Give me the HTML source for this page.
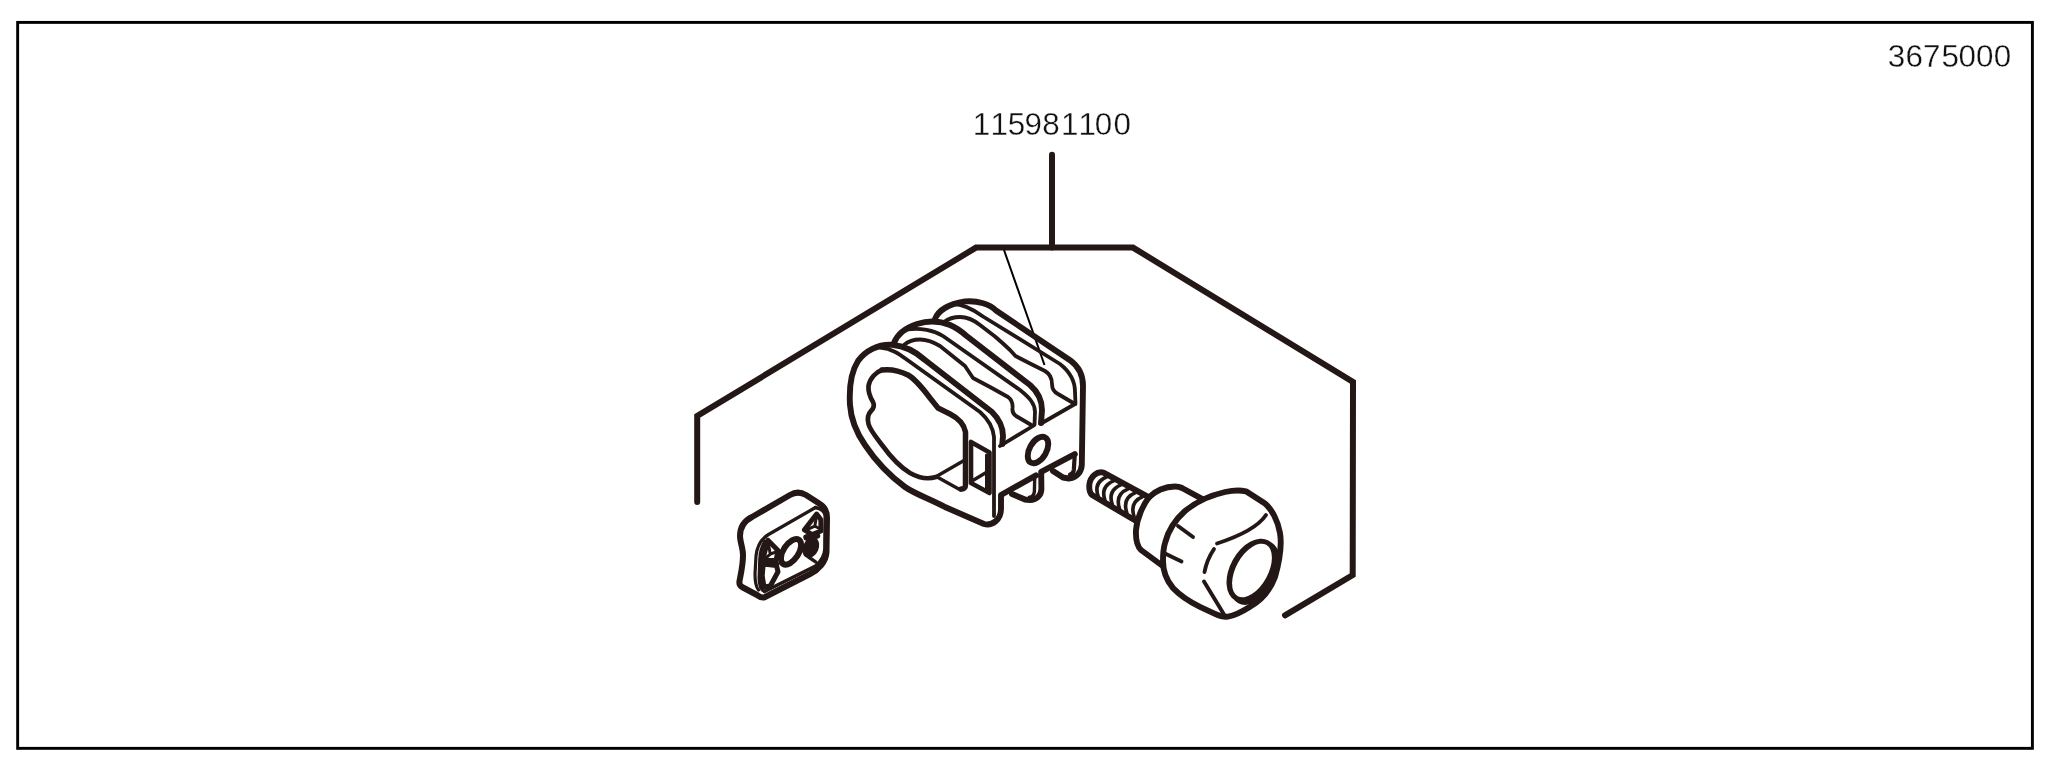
<!DOCTYPE html>
<html lang="en">
<head>
<meta charset="utf-8">
<title>3675000</title>
<style>
html,body{margin:0;padding:0;background:#fff;}
body{width:2050px;height:771px;overflow:hidden;position:relative;font-family:"Liberation Sans",sans-serif;}
svg{position:absolute;left:0;top:0;display:block;}
.lbl{font-family:"Liberation Sans",sans-serif;font-size:31.4px;fill:#111;stroke:#fff;stroke-width:0.32px;paint-order:fill stroke;}
text{filter:grayscale(1);}
</style>
</head>
<body>
<svg width="2050" height="771" viewBox="0 0 2050 771">
<rect x="0" y="0" width="2050" height="771" fill="#fff"/>
<rect x="17.65" y="22.4" width="2014.75" height="725.95" fill="none" stroke="#000" stroke-width="2.9"/>
<text class="lbl" x="1887.8 1905.5 1922.9 1941.5 1958.4 1976 1993.7" y="67">3675000</text>
<text class="lbl" x="972.8 990.6 1007.8 1024.4 1042.3 1061 1078.6 1094.8 1113.6" y="135.4">115981100</text>
<g fill="none" stroke="#231815" stroke-linecap="round" stroke-linejoin="round">
<path d="M1052,154.8 L1052,247.6" stroke-width="6.0"/>
<path d="M697.2,502 L697.2,416 L976,247.6 L1133,247.6 L1353,382 L1352.7,575 L1285,615.3" stroke-width="6.0" stroke-linejoin="miter"/>
<path d="M1004,250 L1044.5,365" stroke-width="2.0" stroke="#000" stroke-linecap="butt"/>
<path d="M935,319 C938,311 948,304 965,301.4 C978,300.3 990,304.5 996,310.5 L1070,360.2 C1078,366 1083,375 1083,386 L1081.8,465 C1081.5,472 1076,478.5 1069,478.5 L1063,477.5 L1053,471" stroke-width="5.9" />
<path d="M953,304 C962,304 974,310 983,316.5 L1060,364 C1069,371 1075,380 1075,392 L1075.5,404" stroke-width="3.8" />
<path d="M944,322 C948,319 954,317 960,317 C968,317 975,321 980,325 L995,336.5 L1003,343.5 L1010,350 L1015.5,356 L1030,363.5 L1045,371 C1050,374 1052,378 1052,384 C1052,389 1054,392 1058,394 L1075,404 L1042,423" stroke-width="3.8" />
<path d="M894,343 C897,335 905,328 917,324 C928,320.5 940,321 950,325 C957,328 962,332 966,335.5 L1030,385 C1038,392 1042,400 1042,410 L1041,423" stroke-width="5.9" />
<path d="M908,329.5 C920,327.5 934,330.5 943,336 L1020,390 C1030,398 1035,404 1035,412 L1034.5,425" stroke-width="3.8" />
<path d="M904,345 C908,341.5 914,339.5 920,339.5 C928,339.5 935,343 940,346 L950,354 L965,366 L973,378 L990,387 L1008,397 C1012,400 1013,403 1012.5,408 C1012,412 1013,414 1016,416 L1033,426 L1000,446" stroke-width="3.8" />
<path d="M1002.3,444 L1003,436 C1003,427 999,419 992,412 L925,360 C915,351 905,346 892,344.8 C878,344 865,351 858,361 C851,372 849,388 850,405 C851,420 856,432 865,445 C875,460 890,476 905,487 C915,494 930,499 945,507 L984,524 C992,526 1001,520 1001,509 L1001,495 L1036,475.4" stroke-width="5.9" />
<path d="M880,347.5 C892,348.5 900,354.5 906,359 L980,412 C988,419 993,427 994,437 L994,516" stroke-width="3.8" />
<path d="M938,477.5 L960.5,490" stroke-width="3.3" />
<path d="M961.3,489 C964,489.3 965.5,487.5 965.5,484.5 L965.5,432 C964,424 958,418 950,414 L938,408 L930,398 C924,390 915,379 908,375 C900,371 890,369 882,370" stroke-width="5.5" />
<path d="M882,370 C876,372 870,378 868.5,386 C868,392 870,397 873,402 C874.5,405 874,408 871,411 C868,414 867,418 868.5,424 C870,430 876,437 882,445 C890,456 900,467 910,473 C918,477.5 928,479.5 936,477" stroke-width="4.7" />
<path d="M935,477.3 L964,460.5" stroke-width="3.3" />
<path d="M971,442 L971,483 L989.5,493 L989.5,452.5 Z" stroke-width="4.6" />
<path d="M986.5,455 L986.5,490" stroke-width="3" />
<path d="M972,481 L987,472" stroke-width="3.3" />
<ellipse cx="1038" cy="450" rx="8.4" ry="14.5" transform="rotate(30 1038 450)" stroke-width="5.9"/>
<path d="M1074.8,454.2 L1041.2,471.8 L1041.4,489 C1041.3,496 1036,500 1030,500 L1025,499.5 L1012,494" stroke-width="5.9" />
<path d="M1034.7,478.5 L1034.4,491.5 C1034,495 1032,497 1029.5,497.3" stroke-width="3.4" />
<path d="M1074.8,454.2 L1073.8,470 C1073.5,473 1072,474 1070,474.5" stroke-width="4.2" />
<path d="M1149,497.3 L1104,472.8 C1097,470.5 1090,477 1089.3,485 C1089,490 1090,493.5 1092.5,495.3 L1137,521.5" stroke-width="5.9" />
<path d="M1106.4,477 Q1093.4,482.5 1098.2,496.3" stroke-width="3.6" />
<path d="M1113.6,480.8 Q1100.2,486.3 1105,500.3" stroke-width="3.6" />
<path d="M1120.9,484.8 Q1107.5,490.3 1112.3,504.4" stroke-width="3.6" />
<path d="M1128.2,488.8 Q1114.7,494.3 1119.5,508.5" stroke-width="3.6" />
<path d="M1135.5,492.7 Q1122.0,498.2 1126.8,512.6" stroke-width="3.6" />
<path d="M1142.7,496.6 Q1129.3,502.1 1134.1,516.7" stroke-width="3.6" />
<path d="M1149,497.3 C1155,491 1165,486.5 1175,486.5 C1178,486.5 1180,487 1182,488 L1202.5,499.2" stroke-width="5.9" />
<path d="M1149,497.3 C1143,505 1137,518 1136,530 C1135.5,540 1137,546 1141,550 L1162,565.5" stroke-width="5.9" />
<path d="M1165,543 C1168,531 1176,519 1185,511 C1197,501 1212,495 1225,492 C1232,490.5 1240,490 1246,491.3 L1265,503.5 C1272,509.5 1278,521 1280,533 C1282,545 1279.8,560 1275,577 C1270,590.5 1262,600 1250,606.8 C1243,611.2 1235,615.7 1228,616.7 C1224,617.2 1220,616.2 1215,613.8 L1200,606.8 C1190,602 1180,595.5 1173,588 C1167,581 1163,571 1163,561 C1163,554 1163.5,548 1165,543 Z" stroke-width="5.9" />
<ellipse cx="1255" cy="573" rx="21.2" ry="34.5" transform="rotate(29 1255 573)" fill="#231815" stroke="none"/>
<ellipse cx="1251.8" cy="570.5" rx="21.8" ry="34.3" transform="rotate(29 1251.8 570.5)" fill="#231815" stroke="none"/>
<ellipse cx="1252" cy="570.5" rx="16" ry="29.3" transform="rotate(29 1252 570.5)" fill="#fff" stroke="none"/>
<path d="M1178,526 L1193,537" stroke-width="3.9" />
<path d="M1165,553.5 L1181.5,561.5" stroke-width="3.9" />
<path d="M1266,515 C1258,527 1240,536 1217,543.5" stroke-width="3.9" />
<path d="M1214,549 C1210,555 1206,564 1204.5,572" stroke-width="3.9" />
<path d="M1204,581.5 L1224,614.5" stroke-width="3.9" />
<path d="M740,536 C740,526 745,520.5 752,517 L790,495 C795,492 801,492 806,495 L820,504 C825,507 827,512 827,518 L826.5,552 C826,562 818,570 810,574 L765,597 C762,598.5 759,596.5 757,595 L742,587 C739.5,585.5 739,584 739.5,581 C741,573 743,565 743,555 C743,548 740,542 740,536 Z" stroke-width="6" />
<path d="M815.4,507.5 L768.5,534.5 C761,539 757,546 756,556 L755,574 C755,581 756,587 758.5,590" stroke-width="3.2" />
<path d="M765,541.5 C761.5,547 760.3,553 760,559 L759.3,578 C759.3,584 761,589.5 764.5,591.5 L815.5,566 C821.5,561.5 824.5,556 825,549 L825.3,516 C825,511.5 821,508.5 815.4,507.5" stroke-width="3.6" />
<ellipse cx="791" cy="551.8" rx="7.6" ry="14.4" transform="rotate(33 791 551.8)" stroke-width="6"/>
<path d="M767.9,540.2 L778,550.5 L776,560.5 L762.6,560.5 Z" stroke-width="4.9" />
<path d="M768.2,543 L770.3,554.2 L763.5,560 M770.3,554.2 L777,551.5" stroke-width="3.0" />
<path d="M764.5,563.5 L776,564.5" stroke-width="6.5" />
<path d="M763.2,564 L776.4,565 L778,571.8 L770.3,586 L764,587 L762.2,576 Z" stroke-width="5.0" />
<path d="M816.6,514 L820.8,519.5 L821,531 L812,534.5 L804.4,529.8 Z" stroke-width="4.9" />
<path d="M816.4,517 L814.8,526.2 L806,530 M814.8,526.2 L820.4,529" stroke-width="3.0" />
<path d="M806.5,537.5 L817,535.5" stroke-width="6.5" />
<ellipse cx="810.8" cy="547.6" rx="5.6" ry="8.6" transform="rotate(24 810.8 547.6)" fill="#231815" stroke-width="4.4"/>
<path d="M808.5,557 L815.6,561.8" stroke-width="3.4" />
</g>
</svg>
</body>
</html>
